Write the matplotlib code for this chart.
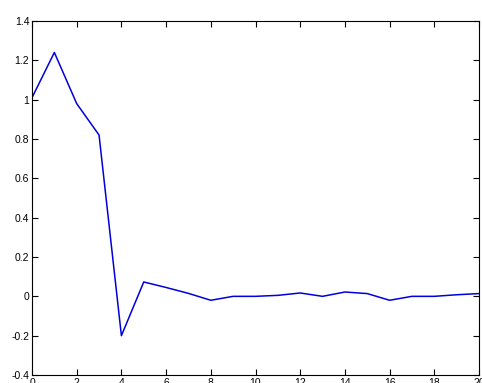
import matplotlib
matplotlib.use("Agg")
import matplotlib.pyplot as plt

# Step response samples
x_vals = list(range(21))
y_vals = [1.01, 1.24, 0.98, 0.82, -0.20, 0.073, 0.045, 0.015, -0.02, 0.0, 0.0,
          0.005, 0.017, 0.0, 0.022, 0.014, -0.02, 0.0, 0.0, 0.008, 0.014]

x_ticks = [0, 2, 4, 6, 8, 10, 12, 14, 16, 18, 20]
x_tick_labels = ["0", "2", "4", "6", "8", "10", "12", "14", "16", "18", "20"]
y_ticks = [-0.4, -0.2, 0, 0.2, 0.4, 0.6, 0.8, 1.0, 1.2, 1.4]
y_tick_labels = ["-0.4", "-0.2", "0", "0.2", "0.4", "0.6", "0.8", "1", "1.2", "1.4"]

plt.rcParams["font.family"] = ["Liberation Sans", "DejaVu Sans"]

fig = plt.figure(figsize=(4.82, 3.83), dpi=100)
ax = fig.add_axes([32 / 482, 8 / 383, 447 / 482, 354 / 383])

ax.plot(x_vals, y_vals, color="#0000dd", linewidth=1.1)

ax.set_xlim(0, 20)
ax.set_ylim(-0.4, 1.4)
ax.set_xticks(x_ticks)
ax.set_xticklabels(x_tick_labels)
ax.set_yticks(y_ticks)
ax.set_yticklabels(y_tick_labels)

ax.tick_params(direction="in", length=4, width=0.8, labelsize=7.5,
               top=True, right=True, pad=2, colors="black")
for spine in ax.spines.values():
    spine.set_linewidth(0.8)
    spine.set_color("black")

fig.savefig("out.png", dpi=100, facecolor="white")
